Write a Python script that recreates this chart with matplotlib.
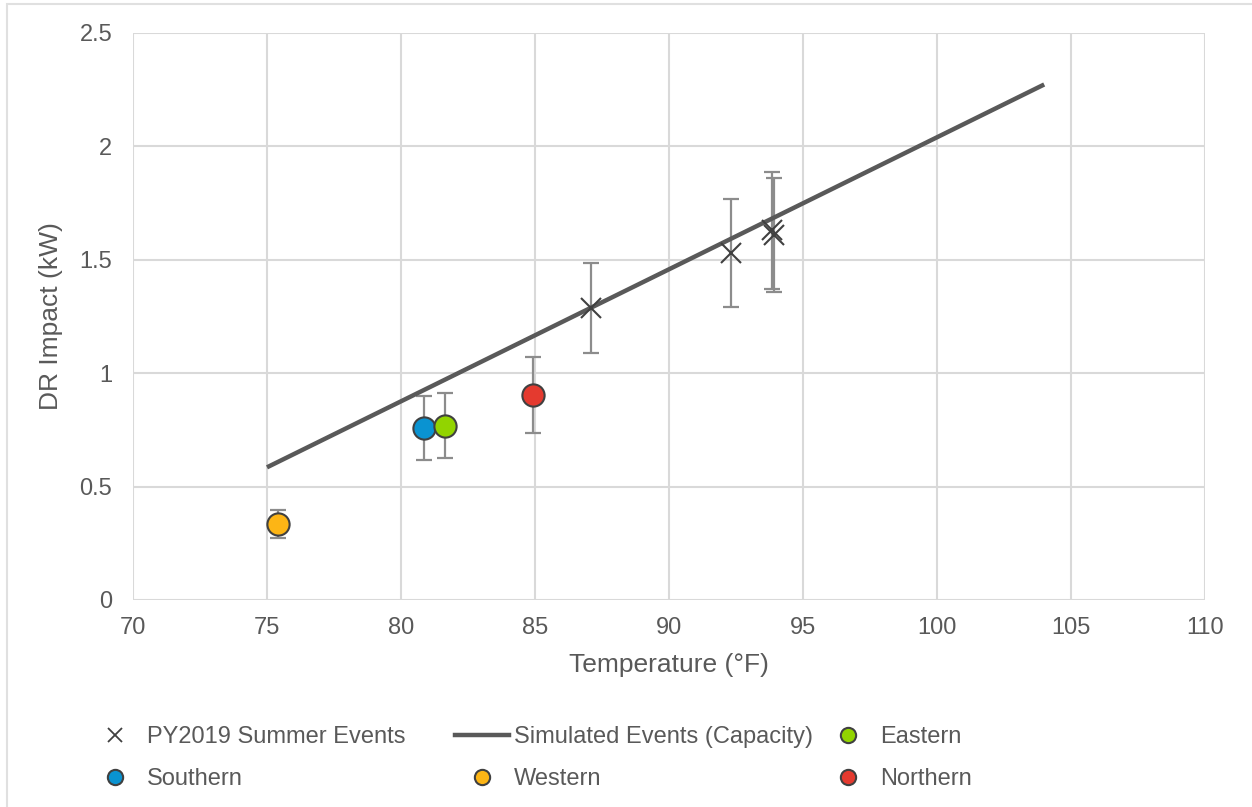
import matplotlib
matplotlib.use("Agg")
import matplotlib.pyplot as plt
from matplotlib.lines import Line2D
from matplotlib.patches import Rectangle

plt.rcParams['font.family'] = ['Liberation Sans', 'DejaVu Sans']

# PY2019 summer events (temperature, impact, +/- error)
event_temp = [87.1, 92.3, 93.83, 93.9]
event_impact = [1.287, 1.530, 1.631, 1.609]
event_err = [0.200, 0.238, 0.258, 0.252]

# simulated capacity line
sim_temp = [75, 104]
sim_impact = [0.585, 2.273]

# regions
regions = ["Southern", "Western", "Eastern", "Northern"]
region_temp = [80.87, 75.41, 81.64, 84.91]
region_impact = [0.760, 0.336, 0.769, 0.905]
region_err = [0.141, 0.061, 0.143, 0.167]
region_colors = ["#0A93D1", "#FDB515", "#92D400", "#E43A2F"]

txt = "#595959"
W, H = 1252, 807
fig = plt.figure(figsize=(W / 100, H / 100), dpi=100)
ax = fig.add_axes([133 / W, 1 - 600 / H, (1205 - 133) / W, (600 - 33) / H])

# outer chart border
fig.patches.append(Rectangle((7 / W, -0.1), 1.2, 1 - 4 / H + 0.1, transform=fig.transFigure,
                             fill=False, edgecolor="#e0e0e0", linewidth=1.5))

ax.errorbar(event_temp, event_impact, yerr=event_err, fmt="none", ecolor="#8c8c8c",
            elinewidth=1.6, capsize=5.5, capthick=1.6, zorder=2)
ax.plot(sim_temp, sim_impact, color="#595959", linewidth=3.2, solid_capstyle="butt", zorder=3)
ax.plot(event_temp, event_impact, linestyle="none", marker="x", markersize=14,
        markeredgewidth=1.5, color="#404040", zorder=4)

for i in range(len(regions)):
    ax.errorbar(region_temp[i], region_impact[i], yerr=region_err[i], fmt="none",
                ecolor="#8c8c8c", elinewidth=1.6, capsize=5.5, capthick=1.6, zorder=2)
    ax.plot(region_temp[i], region_impact[i], linestyle="none", marker="o", markersize=16,
            markerfacecolor=region_colors[i], markeredgecolor="#404040",
            markeredgewidth=1.5, zorder=5)

ax.set_xlim(70, 110)
ax.set_ylim(0, 2.5)
ax.set_xticks([70, 75, 80, 85, 90, 95, 100, 105, 110])
ax.set_yticks([0, 0.5, 1, 1.5, 2, 2.5])
ax.set_yticklabels(["0", "0.5", "1", "1.5", "2", "2.5"])
ax.grid(True, color="#d9d9d9", linewidth=1.5)
ax.set_axisbelow(True)
for s in ax.spines.values():
    s.set_visible(False)
ax.tick_params(axis="both", length=0, labelsize=17, labelcolor=txt)
ax.tick_params(axis="x", pad=12)
ax.tick_params(axis="y", pad=15)
ax.set_xlabel("Temperature (°F)", fontsize=19, color=txt, labelpad=10)
ax.set_ylabel("DR Impact (kW)", fontsize=19, color=txt, labelpad=12)

# legend, three columns placed like the original
def circ(c):
    return Line2D([], [], linestyle="none", marker="o", markersize=11, markerfacecolor=c,
                  markeredgecolor="#404040", markeredgewidth=1.5)

cols = [
    ([Line2D([], [], linestyle="none", marker="x", markersize=10, markeredgewidth=1.3, color="#404040"),
      circ(region_colors[0])], ["PY2019 Summer Events", "Southern"], 88),
    ([Line2D([], [], color="#595959", linewidth=3.2), circ(region_colors[1])],
     ["Simulated Events (Capacity)", "Western"], 455),
    ([circ(region_colors[2]), circ(region_colors[3])], ["Eastern", "Northern"], 821),
]
for handles, labels, x0 in cols:
    fig.legend(handles, labels, loc="center left", bbox_to_anchor=(x0 / W, 1 - 758 / H),
               frameon=False, fontsize=17, labelcolor=txt, handlelength=2.29,
               handletextpad=0.21, borderpad=0, borderaxespad=0, labelspacing=0.86)

fig.savefig("out.png", dpi=100)
